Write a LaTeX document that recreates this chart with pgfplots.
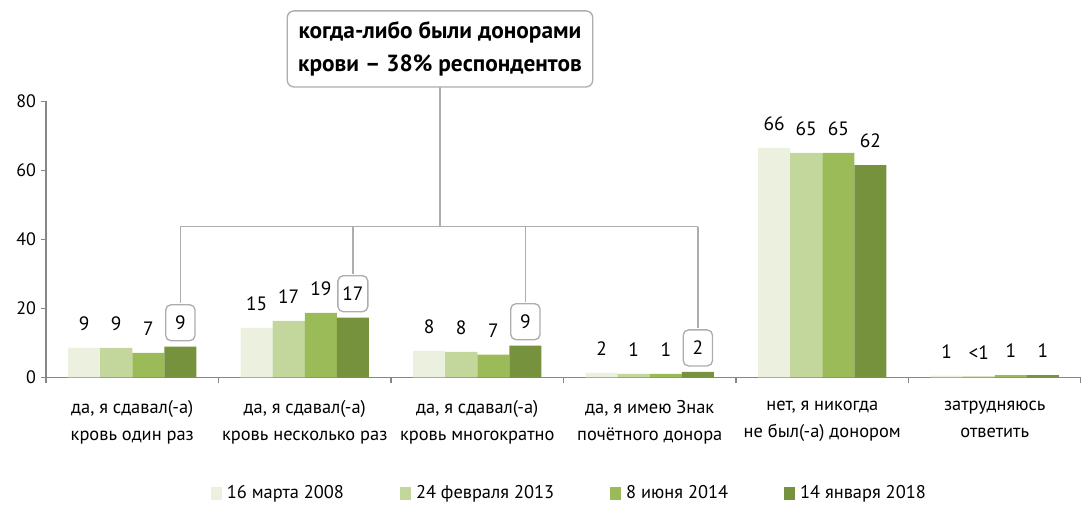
\documentclass[border=0pt]{standalone}
\usepackage{pgfplots}
\pgfplotsset{compat=1.18}
\usepackage{fontspec}
\setmainfont{PT Sans}
\definecolor{c1}{HTML}{EBF1DE}
\definecolor{c2}{HTML}{C3D69B}
\definecolor{c3}{HTML}{9BBB59}
\definecolor{c4}{HTML}{76923C}
\definecolor{ln}{HTML}{ADADAD}
\definecolor{axc}{HTML}{868686}
\begin{document}
\begin{tikzpicture}
\begin{axis}[
  at={(0,0)}, anchor=south west,
  width=776pt, height=207pt, scale only axis,
  xmin=-0.5, xmax=5.5, ymin=0, ymax=80,
  enlargelimits=false, clip=false,
  ybar=0pt, bar width=0.186,
  axis x line=bottom, axis y line=left,
  axis line style={-, draw=axc, line width=1pt},
  ytick={0,20,40,60,80},
  tick align=outside,
  major tick length=4pt,
  y tick style={draw=axc, line width=1pt},
  major x tick style={draw=none},
  minor x tick style={draw=axc, line width=1pt},
  minor tick length=4.5pt,
  xtick={0,1,2,3,4,5},
  minor xtick={-0.5,0.5,1.5,2.5,3.5,4.5,5.5},
  xticklabels={{да, я сдавал(-а)\\кровь один раз},{да, я сдавал(-а)\\кровь несколько раз},{да, я сдавал(-а)\\кровь многократно},{да, я имею Знак\\почётного донора},{нет, я никогда\\не был(-а) донором},{затрудняюсь\\ответить}},
  xticklabel style={align=center, font=\fontsize{13.8}{20.25}\selectfont, yshift=-10pt},
  yticklabel style={font=\fontsize{13.5}{16}\selectfont},
  /pgf/number format/assume math mode=true,
  point meta=explicit symbolic,
  nodes near coords,
  every node near coord/.append style={anchor=center, yshift=18pt, font=\fontsize{14.5}{16}\selectfont, text=black},
  legend image code/.code={\fill[#1] (0pt,-5pt) rectangle (8pt,5pt);},
  legend style={at={(rel axis cs:0.506,0)}, anchor=center, yshift=-86.8pt, draw=none, fill=none,
    legend columns=-1, font=\fontsize{13.8}{16}\selectfont,
    /tikz/every odd column/.append style={column sep=2pt},
    /tikz/every even column/.append style={column sep=40pt}},
]
\addplot[fill=c1, draw=none] coordinates {(0,8.6)[9] (1,14.4)[15] (2,7.7)[8] (3,1.3)[2] (4,66.5)[66] (5,0.5)[1]};
\addplot[fill=c2, draw=none] coordinates {(0,8.6)[9] (1,16.4)[17] (2,7.4)[8] (3,1.0)[1] (4,65.1)[65] (5,0.3)[<1]};
\addplot[fill=c3, draw=none] coordinates {(0,7.1)[7] (1,18.7)[19] (2,6.6)[7] (3,1.0)[1] (4,65.1)[65] (5,0.7)[1]};
\addplot[fill=c4, draw=none,
  every node near coord/.append style={/utils/exec={\ifnum\coordindex<4\relax\pgfkeysalso{/tikz/draw=ln,/tikz/line width=1pt,/tikz/rounded corners=4pt,/tikz/fill=white,/tikz/minimum width=22pt,/tikz/minimum height=27pt}\fi}}]
  coordinates {(0,8.9)[9] (1,17.3)[17] (2,9.2)[9] (3,1.6)[2] (4,61.5)[62] (5,0.7)[1]};
\legend{16 марта 2008, 24 февраля 2013, 8 июня 2014, 14 января 2018}
% connector lines
\draw[ln, line width=1pt] (axis cs:0.279,43.7) -- (axis cs:3.279,43.7);
\draw[ln, line width=1pt] (axis cs:1.784,43.7) -- (axis cs:1.784,84.5);
\draw[ln, line width=1pt] (axis cs:0.279,43.7) -- (axis cs:0.279,21.6);
\draw[ln, line width=1pt] (axis cs:1.279,43.7) -- (axis cs:1.279,30.0);
\draw[ln, line width=1pt] (axis cs:2.279,43.7) -- (axis cs:2.279,21.9);
\draw[ln, line width=1pt] (axis cs:3.279,43.7) -- (axis cs:3.279,14.3);
\node[draw=ln, line width=1pt, rounded corners=5pt, fill=white, minimum width=229pt, minimum height=57pt,
  align=center, font=\bfseries\fontsize{17.5}{24.5}\selectfont] at (axis cs:1.784,95.2)
  {когда-либо были донорами\\крови – 38\% респондентов};
\end{axis}
\pgfresetboundingbox
\path (-34.5pt,-96.5pt) rectangle (776pt,283pt);
\end{tikzpicture}
\end{document}
